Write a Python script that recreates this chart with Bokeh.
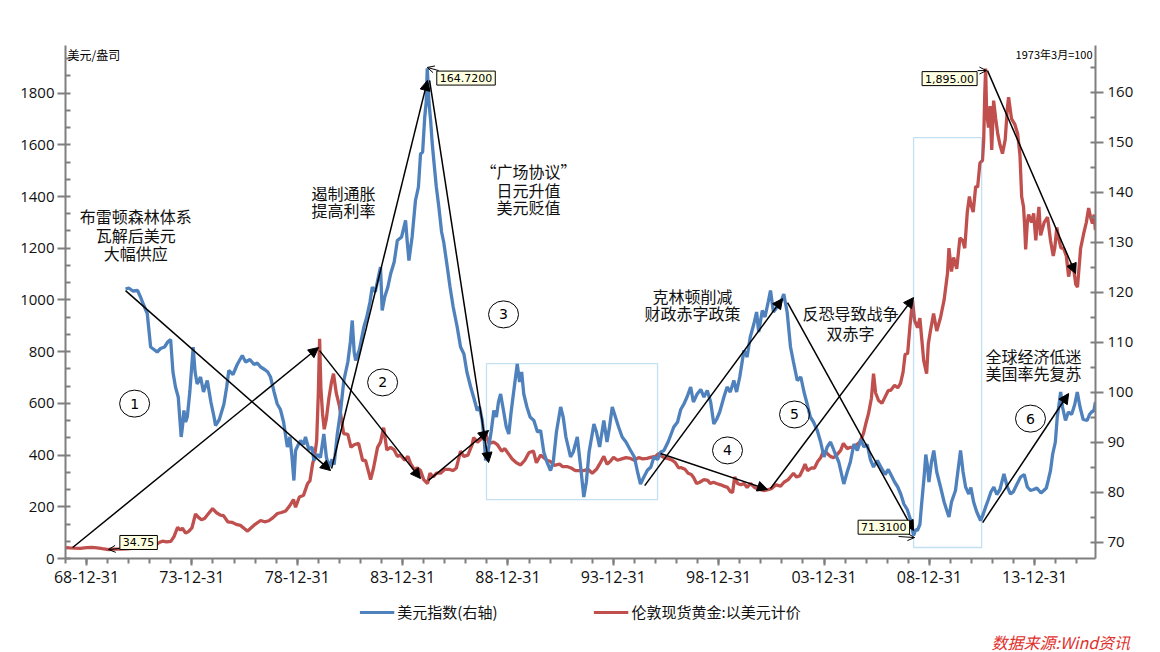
from bokeh.plotting import figure
from bokeh.layouts import column
from bokeh.models import (Range1d, LinearAxis, FixedTicker, Label, Arrow, NormalHead,
                          OpenHead, BoxAnnotation, Legend, LegendItem)
from bokeh.embed import file_html
from bokeh.resources import INLINE

# ---------------- data ----------------
gold_t = [1968.00, 1968.20, 1968.45, 1968.70, 1969.00, 1969.25, 1969.50, 1969.75, 1970.04, 1970.30,
          1970.60, 1970.90, 1971.20, 1971.50, 1971.80, 1972.05, 1972.25, 1972.45, 1972.60, 1972.80,
          1973.00, 1973.15, 1973.32, 1973.45, 1973.55, 1973.70, 1973.85, 1974.00, 1974.17, 1974.30,
          1974.45, 1974.60, 1974.75, 1974.98, 1975.15, 1975.35, 1975.50, 1975.70, 1975.90, 1976.10,
          1976.30, 1976.50, 1976.64, 1976.80, 1977.00, 1977.26, 1977.45, 1977.65, 1977.85, 1978.06,
          1978.25, 1978.45, 1978.65, 1978.82, 1978.92, 1979.10, 1979.30, 1979.49, 1979.60, 1979.73,
          1979.82, 1979.92, 1980.00, 1980.06, 1980.12, 1980.20, 1980.28, 1980.38, 1980.50, 1980.62,
          1980.72, 1980.85, 1981.00, 1981.20, 1981.40, 1981.55, 1981.70, 1981.91, 1982.10, 1982.24,
          1982.40, 1982.48, 1982.62, 1982.81, 1982.95, 1983.10, 1983.25, 1983.43, 1983.60, 1983.75,
          1983.90, 1984.10, 1984.25, 1984.38, 1984.55, 1984.70, 1984.85, 1985.00, 1985.18, 1985.30,
          1985.45, 1985.60, 1985.80, 1986.00, 1986.20, 1986.40, 1986.55, 1986.75, 1986.90, 1987.10,
          1987.30, 1987.37, 1987.55, 1987.70, 1987.84, 1987.95, 1988.10, 1988.32, 1988.50, 1988.70,
          1988.85, 1988.98, 1989.20, 1989.40, 1989.60, 1989.80, 1990.00, 1990.21, 1990.35, 1990.55,
          1990.70, 1990.85, 1991.02, 1991.20, 1991.45, 1991.60, 1991.83, 1992.00, 1992.20, 1992.40,
          1992.59, 1992.80, 1993.00, 1993.20, 1993.39, 1993.55, 1993.70, 1993.85, 1994.01, 1994.20,
          1994.40, 1994.60, 1994.82, 1995.00, 1995.20, 1995.40, 1995.60, 1995.77, 1996.00, 1996.15,
          1996.30, 1996.45, 1996.58, 1996.80, 1996.95, 1997.10, 1997.20, 1997.40, 1997.55, 1997.70,
          1997.81, 1997.95, 1998.10, 1998.30, 1998.48, 1998.60, 1998.75, 1998.90, 1999.10, 1999.25,
          1999.42, 1999.56, 1999.66, 1999.76, 1999.90, 2000.05, 2000.20, 2000.35, 2000.51, 2000.70,
          2000.90, 2001.13, 2001.30, 2001.50, 2001.72, 2001.94, 2002.10, 2002.30, 2002.45, 2002.55,
          2002.70, 2002.85, 2003.00, 2003.10, 2003.22, 2003.40, 2003.55, 2003.70, 2003.84, 2003.95,
          2004.10, 2004.30, 2004.45, 2004.60, 2004.79, 2004.92, 2005.10, 2005.26, 2005.40, 2005.55,
          2005.70, 2005.87, 2005.98, 2006.11, 2006.25, 2006.35, 2006.45, 2006.59, 2006.75, 2006.90,
          2007.05, 2007.16, 2007.35, 2007.50, 2007.63, 2007.75, 2007.85, 2007.97, 2008.08, 2008.20,
          2008.30, 2008.44, 2008.55, 2008.65, 2008.73, 2008.80, 2008.87, 2008.95, 2009.05, 2009.20,
          2009.35, 2009.53, 2009.70, 2009.86, 2009.93, 2010.05, 2010.15, 2010.30, 2010.45, 2010.58,
          2010.68, 2010.80, 2010.90, 2010.96, 2011.08, 2011.20, 2011.29, 2011.40, 2011.52, 2011.58,
          2011.63, 2011.67, 2011.72, 2011.81, 2011.88, 2011.96, 2012.05, 2012.15, 2012.25, 2012.35,
          2012.47, 2012.60, 2012.70, 2012.76, 2012.90, 2013.05, 2013.19, 2013.30, 2013.38, 2013.47,
          2013.52, 2013.57, 2013.65, 2013.71, 2013.85, 2013.95, 2014.05, 2014.13, 2014.20, 2014.28,
          2014.45, 2014.61, 2014.75, 2014.88, 2014.95, 2015.05, 2015.13, 2015.25, 2015.37, 2015.50,
          2015.61, 2015.73, 2015.84, 2015.95, 2016.03, 2016.10, 2016.18, 2016.32, 2016.45, 2016.56,
          2016.65, 2016.74, 2016.82, 2016.88]
gold_v = [42, 41, 40, 39.5, 42, 43, 41, 38, 34.75, 36,
          36.5, 37.5, 39, 41, 43, 46, 50, 62, 67, 64,
          66, 85, 120, 110, 117, 98, 105, 118, 172, 160,
          150, 155, 170, 193, 178, 168, 166, 142, 140, 132,
          128, 115, 106, 118, 132, 147, 142, 146, 158, 174,
          178, 184, 205, 228, 198, 238, 245, 290, 300, 367,
          395, 455, 640, 850, 660, 560, 500, 540, 620, 680,
          715, 640, 590, 483, 480, 430, 440, 445, 380, 379,
          330, 305, 350, 430, 450, 506, 420, 430, 420, 395,
          400, 380, 395, 367, 345, 350, 340, 305, 290, 330,
          315, 330, 330, 345, 345, 340, 350, 415, 395, 400,
          440, 468, 450, 460, 485, 480, 445, 450, 440, 415,
          425, 410, 385, 370, 362, 380, 410, 415, 370, 400,
          390, 380, 375, 360, 365, 355, 355, 350, 340, 340,
          340, 345, 330, 345, 371, 395, 365, 375, 391, 380,
          385, 390, 387, 380, 390, 385, 387, 391, 395, 406,
          395, 388, 387, 380, 370, 350, 352, 345, 330, 325,
          313, 290, 295, 305, 302, 290, 295, 290, 285, 280,
          275, 258, 255, 315, 290, 285, 290, 275, 290, 275,
          268, 263, 265, 270, 285, 280, 295, 305, 320, 329,
          315, 320, 345, 365, 340, 350, 350, 375, 390, 410,
          410, 395, 390, 400, 418, 445, 425, 430, 430, 440,
          450, 483, 520, 560, 620, 715, 640, 611, 600, 625,
          650, 650, 670, 660, 677, 720, 790, 793, 900, 998,
          920, 893, 930, 840, 766, 740, 715, 830, 880, 947,
          880, 932, 1000, 1102, 1200, 1110, 1164, 1120, 1240, 1230,
          1200, 1340, 1400, 1373, 1340, 1440, 1435, 1530, 1539, 1620,
          1800, 1895, 1720, 1667, 1750, 1580, 1771, 1700, 1640, 1600,
          1566, 1620, 1740, 1784, 1700, 1680, 1643, 1560, 1400, 1360,
          1290, 1195, 1300, 1330, 1300, 1335, 1230, 1300, 1360, 1250,
          1300, 1320, 1230, 1170, 1200, 1280, 1240, 1200, 1200, 1170,
          1090, 1140, 1125, 1060, 1050, 1120, 1200, 1255, 1300, 1355,
          1320, 1295, 1330, 1270]

dxy_t = [1970.85, 1971.00, 1971.20, 1971.42, 1971.56, 1971.70, 1971.88, 1972.04, 1972.20, 1972.35,
         1972.51, 1972.70, 1972.85, 1972.99, 1973.10, 1973.22, 1973.35, 1973.49, 1973.55, 1973.62,
         1973.70, 1973.78, 1973.90, 1974.06, 1974.15, 1974.25, 1974.41, 1974.55, 1974.73, 1974.90,
         1975.05, 1975.12, 1975.30, 1975.52, 1975.65, 1975.75, 1975.95, 1976.15, 1976.39, 1976.55,
         1976.75, 1976.95, 1977.10, 1977.26, 1977.45, 1977.60, 1977.73, 1977.90, 1978.05, 1978.20,
         1978.35, 1978.53, 1978.65, 1978.75, 1978.84, 1978.92, 1979.05, 1979.16, 1979.30, 1979.39,
         1979.55, 1979.70, 1979.79, 1979.95, 1980.10, 1980.26, 1980.38, 1980.50, 1980.65, 1980.75,
         1980.90, 1981.05, 1981.21, 1981.40, 1981.52, 1981.61, 1981.70, 1981.77, 1981.95, 1982.16,
         1982.30, 1982.45, 1982.56, 1982.70, 1982.85, 1982.95, 1983.03, 1983.15, 1983.30, 1983.43,
         1983.60, 1983.75, 1983.95, 1984.14, 1984.22, 1984.30, 1984.45, 1984.61, 1984.75, 1984.85,
         1984.95, 1985.05, 1985.12, 1985.17, 1985.25, 1985.33, 1985.40, 1985.48, 1985.60, 1985.72,
         1985.85, 1985.95, 1986.12, 1986.25, 1986.40, 1986.59, 1986.75, 1986.91, 1987.05, 1987.23,
         1987.40, 1987.54, 1987.65, 1987.78, 1987.88, 1987.94, 1988.05, 1988.20, 1988.33, 1988.45,
         1988.55, 1988.65, 1988.80, 1988.92, 1989.04, 1989.15, 1989.30, 1989.44, 1989.55, 1989.65,
         1989.75, 1989.90, 1990.05, 1990.23, 1990.40, 1990.55, 1990.70, 1990.85, 1991.02, 1991.15,
         1991.30, 1991.50, 1991.62, 1991.75, 1991.97, 1992.10, 1992.29, 1992.45, 1992.60, 1992.72,
         1992.85, 1993.08, 1993.20, 1993.35, 1993.55, 1993.70, 1993.82, 1993.95, 1994.10, 1994.25,
         1994.42, 1994.60, 1994.82, 1995.00, 1995.15, 1995.29, 1995.45, 1995.61, 1995.78, 1995.93,
         1996.10, 1996.25, 1996.40, 1996.60, 1996.87, 1997.05, 1997.20, 1997.35, 1997.50, 1997.67,
         1997.80, 1997.98, 1998.15, 1998.30, 1998.46, 1998.62, 1998.77, 1998.90, 1999.05, 1999.25,
         1999.40, 1999.55, 1999.72, 1999.85, 2000.00, 2000.20, 2000.35, 2000.50, 2000.67, 2000.80,
         2000.90, 2001.07, 2001.20, 2001.35, 2001.46, 2001.60, 2001.78, 2001.95, 2002.09, 2002.25,
         2002.41, 2002.55, 2002.73, 2002.90, 2003.05, 2003.20, 2003.35, 2003.50, 2003.68, 2003.84,
         2004.00, 2004.15, 2004.31, 2004.50, 2004.70, 2004.94, 2005.10, 2005.25, 2005.42, 2005.58,
         2005.75, 2005.89, 2006.05, 2006.20, 2006.35, 2006.53, 2006.70, 2006.90, 2007.05, 2007.16,
         2007.35, 2007.50, 2007.65, 2007.79, 2007.95, 2008.10, 2008.25, 2008.35, 2008.43, 2008.55,
         2008.62, 2008.75, 2008.83, 2008.90, 2008.98, 2009.10, 2009.21, 2009.35, 2009.53, 2009.70,
         2009.85, 2009.93, 2010.05, 2010.24, 2010.35, 2010.48, 2010.60, 2010.72, 2010.87, 2010.97,
         2011.10, 2011.25, 2011.43, 2011.55, 2011.67, 2011.80, 2011.92, 2012.06, 2012.20, 2012.35,
         2012.54, 2012.70, 2012.85, 2012.98, 2013.15, 2013.33, 2013.50, 2013.65, 2013.80, 2013.95,
         2014.10, 2014.30, 2014.43, 2014.55, 2014.65, 2014.75, 2014.85, 2014.98, 2015.07, 2015.17,
         2015.23, 2015.32, 2015.46, 2015.60, 2015.75, 2015.90, 2016.02, 2016.15, 2016.30, 2016.49,
         2016.60, 2016.70, 2016.81, 2016.88]
dxy_v = [120.6, 120.8, 120.2, 120.3, 119, 117.5, 115.7, 109, 108.5, 108,
         108.7, 109, 110, 110.5, 104, 101, 99, 91, 93, 96.3,
         94, 95, 100, 109, 104, 101.6, 103, 100, 102.3, 98,
         95, 93.3, 94.5, 97.6, 101, 104.3, 103.5, 105.5, 107.3, 106,
         106.5, 105.5, 105.8, 105, 104.5, 104, 103, 100, 97.6, 96.5,
         94, 89, 91, 87, 82.3, 88.3, 89.5, 90.3, 89.5, 91,
         88.5, 89, 86.3, 87.5, 86.9, 91.6, 87, 85, 86.5, 85.5,
         91.6, 96, 102.3, 106, 110, 114.3, 108, 106.3, 108.5, 113,
         115, 118, 121, 120, 123, 125, 116.3, 119, 121, 123.6,
         126, 130.3, 131, 134.3, 130, 126.3, 131, 138.3, 141, 147.6,
         148, 155, 158, 164.72, 158, 154.3, 150, 146.3, 141, 137,
         132, 130, 125, 121, 117, 113, 109, 107.6, 104, 101,
         98.5, 96.3, 97, 94.3, 90, 86.3, 88, 92, 96.3, 95,
         98, 99.6, 96, 93, 91.6, 96, 101, 105.6, 102, 104,
         99.6, 97, 95, 94.3, 92, 92.3, 88, 86, 84.3, 86,
         92, 97, 95, 91, 87, 88, 91, 85, 79, 82,
         88, 93.6, 92, 89, 94.3, 90, 93, 97, 95, 93,
         91, 90, 88.3, 87, 84, 81.6, 83, 84.3, 85, 87,
         86.5, 88, 88.3, 90, 93, 94, 96.5, 97.6, 99, 101,
         98, 99.6, 100.5, 99, 100.3, 98, 93.6, 94.5, 96, 99,
         101, 100, 102.3, 100, 103, 108.3, 107, 111, 113.6, 116,
         112, 116.3, 115, 118, 120.3, 116, 117, 118, 119.6, 116,
         109, 106, 102.3, 103, 100, 97.6, 95, 94, 92.3, 90,
         87, 89, 90, 88, 86, 81.6, 84, 86, 89.6, 88.3,
         90.5, 89, 89.5, 86.5, 85, 86.3, 85, 83.5, 84.5, 83.6,
         82, 81, 79.5, 77.6, 76.5, 74.5, 71.31, 72.5, 72.3, 73.5,
         77, 83, 87.5, 85.5, 82, 86, 88.3, 84, 81, 78,
         76, 75, 78, 80.3, 84, 88.3, 84, 81, 79.6, 80.9,
         78, 76, 74.3, 75.5, 77, 78.5, 80, 81, 79.5, 80.5,
         83.6, 81, 79.6, 80, 81.5, 83, 83.5, 81, 80.3, 80.5,
         80.8, 79.8, 80.3, 80.8, 82.5, 84.3, 87.5, 90, 95, 98,
         100, 97, 94.3, 96, 95.5, 97.5, 100, 97, 94.5, 94.3,
         95.5, 96, 96.3, 98]

x_tick_years = [1969, 1974, 1979, 1984, 1989, 1994, 1999, 2004, 2009, 2014]
x_tick_labels = ["68-12-31", "73-12-31", "78-12-31", "83-12-31", "88-12-31",
                 "93-12-31", "98-12-31", "03-12-31", "08-12-31", "13-12-31"]
x_minor_years = list(range(1968, 2017))
left_ticks = [0, 200, 400, 600, 800, 1000, 1200, 1400, 1600, 1800]
right_ticks = [70, 80, 90, 100, 110, 120, 130, 140, 150, 160]

series_names = ["美元指数(右轴)", "伦敦现货黄金:以美元计价"]
BLUE = "#4f81bd"
RED = "#c0504d"
AXC = "#7f7f7f"
CJK = "Noto Sans CJK SC"

# ---------------- annotations (data coordinates) ----------------
notes = [  # (x, y, text)
    (1971.33, 1326, "布雷顿森林体系"), (1971.33, 1253, "瓦解后美元"), (1971.33, 1183, "大幅供应"),
    (1981.20, 1412, "遏制通胀"), (1981.20, 1346, "提高利率"),
    (1989.98, 1500, "“广场协议”"), (1989.98, 1427, "日元升值"), (1989.98, 1358, "美元贬值"),
    (1997.76, 1017, "克林顿削减"), (1997.76, 948, "财政赤字政策"),
    (2005.26, 948, "反恐导致战争"), (2005.26, 874, "双赤字"),
    (2013.94, 785, "全球经济低迷"), (2013.94, 719, "美国率先复苏"),
]
circles = [(1971.28, 599, "1"), (1983.05, 681, "2"), (1988.79, 944, "3"),
           (1999.42, 418, "4"), (2002.60, 557, "5"), (2013.80, 541, "6")]
arrows = [
    (1968.34, 42.5, 1980.01, 816), (1970.85, 1036, 1980.58, 340),
    (1980.63, 348, 1985.18, 1849), (1980.06, 804, 1984.85, 309),
    (1985.28, 1849, 1988.08, 371), (1985.23, 302, 1988.08, 495),
    (1995.49, 282, 2002.03, 1005), (1996.24, 406, 2001.32, 267),
    (2002.27, 990, 2008.25, 108), (2001.46, 271, 2008.25, 1009),
    (2011.76, 1887, 2015.94, 1102), (2011.53, 139, 2015.61, 638),
]
boxes = [(1987.98, 1996.10, 228, 754), (2008.25, 2011.48, 42.5, 1628)]

# ---------------- main chart ----------------
p = figure(frame_width=1030, frame_height=513, output_backend="svg", toolbar_location=None,
           x_range=Range1d(1968.0, 2016.885), y_range=Range1d(0, 1984),
           min_border_left=65, min_border_right=65, min_border_top=45, min_border_bottom=40)
p.extra_y_ranges = {"dxy": Range1d(66.7, 169.3)}
p.xgrid.visible = False
p.ygrid.visible = False
p.outline_line_color = None
p.background_fill_color = "white"
p.border_fill_color = "white"

xa = p.xaxis[0]
xa.ticker = FixedTicker(ticks=x_tick_years, minor_ticks=x_minor_years)
xa.major_label_overrides = {y: l for y, l in zip(x_tick_years, x_tick_labels)}
xa.major_tick_out, xa.major_tick_in, xa.minor_tick_out, xa.minor_tick_in = 7, 0, 5, 0
xa.major_label_standoff = 5
xa.major_label_text_font_size = "16px"

ya = p.yaxis[0]
ya.ticker = FixedTicker(ticks=left_ticks,
                        minor_ticks=[i * 200 / 3 for i in range(0, 30)])
ya.major_tick_out, ya.major_tick_in, ya.minor_tick_out, ya.minor_tick_in = 8, 0, 0, 5
ya.major_label_standoff = 3

ra = LinearAxis(y_range_name="dxy",
                ticker=FixedTicker(ticks=right_ticks, minor_ticks=list(range(65, 170, 5))))
ra.major_tick_out, ra.major_tick_in, ra.minor_tick_out, ra.minor_tick_in = 8, 0, 0, 5
ra.major_label_standoff = 4
p.add_layout(ra, "right")

for ax in (xa, ya, ra):
    ax.axis_line_color = AXC
    ax.axis_line_width = 2
    ax.major_tick_line_color = AXC
    ax.major_tick_line_width = 2
    ax.minor_tick_line_color = AXC
    ax.minor_tick_line_width = 2
    ax.major_label_text_font = "Open Sans"
    ax.major_label_text_color = "#111111"
for ax in (ya, ra):
    ax.major_label_text_font_size = "15px"

# series
p.line(gold_t, gold_v, line_color=RED, line_width=3.3)
p.line(dxy_t, dxy_v, line_color=BLUE, line_width=3.3, y_range_name="dxy")

# boxes
for l, r, b, t in boxes:
    p.add_layout(BoxAnnotation(left=l, right=r, bottom=b, top=t, fill_alpha=0,
                               line_color="#3d9bd6", line_width=1.3))

# arrows
for xs, ys, xe, ye in arrows:
    p.add_layout(Arrow(end=NormalHead(size=10, fill_color="black", line_color="black"),
                       x_start=xs, y_start=ys, x_end=xe, y_end=ye,
                       line_color="black", line_width=1.5))

# text notes
for x, y, t in notes:
    p.add_layout(Label(x=x, y=y, text=t, text_align="center", text_baseline="middle",
                       text_font=CJK, text_font_size="16px", text_color="#111111"))

# circled numbers
cx = [c[0] for c in circles]
cy = [c[1] for c in circles]
p.ellipse(cx, cy, width=30 / 21.07, height=27 / 0.25857, fill_alpha=0,
          line_color="black", line_width=1)
for x, y, t in circles:
    p.add_layout(Label(x=x, y=y, text=t, text_align="center", text_baseline="middle",
                       text_font="DejaVu Sans", text_font_size="14px", text_color="black"))

# callouts (extreme values)
gi_max = gold_v.index(max(gold_v))
gi_min = gold_v.index(min(gold_v))
di_max = dxy_v.index(max(dxy_v))
di_min = dxy_v.index(min(dxy_v))
callouts = [
    (1971.47, 62, f"{gold_v[gi_min]:.2f}", 1970.57, 38.7, gold_t[gi_min], 34.8),
    (1987.01, 1858, f"{dxy_v[di_max]:.4f}", 1985.71, 1887, dxy_t[di_max], 1899),
    (2006.84, 121, f"{dxy_v[di_min]:.4f}", 2007.54, 85, 2008.30, 81),
    (2009.96, 1856, f"{gold_v[gi_max]:,.2f}", 2011.29, 1887, gold_t[gi_max] + 0.04, 1887),
]
for lx, ly, t, xs, ys, xe, ye in callouts:
    p.add_layout(Arrow(end=OpenHead(size=7, line_width=1, line_color="black"),
                       x_start=xs, y_start=ys, x_end=xe, y_end=ye,
                       line_color="black", line_width=1))
    p.add_layout(Label(x=lx, y=ly, text=t, text_align="center", text_baseline="middle",
                       text_font="DejaVu Sans", text_font_size="11px", text_color="black",
                       background_fill_color="#ffffe1", border_line_color="black",
                       border_line_width=1, padding=3))

# axis unit titles (inside the top of the frame)
p.add_layout(Label(x=1968.10, y=1982, text="美元/盎司", text_align="left", text_baseline="top",
                   text_font=CJK, text_font_size="12px", text_color="black"))
p.add_layout(Label(x=2016.745, y=1982, text="1973年3月=100", text_align="right",
                   text_baseline="top", text_font=CJK, text_font_size="11px",
                   text_color="black"))


def strip(h):
    s = figure(frame_width=1160, frame_height=h, output_backend="svg", toolbar_location=None,
               x_range=Range1d(0, 1160), y_range=Range1d(0, h),
               x_axis_type=None, y_axis_type=None,
               min_border=0, min_border_left=0, min_border_right=0,
               min_border_top=0, min_border_bottom=0)
    s.outline_line_color = None
    s.background_fill_color = "white"
    s.border_fill_color = "white"
    return s


# ---------------- legend strip ----------------
q = strip(30)
# same series, plotted in the strip only to give the legend its swatches
# (their data lies far outside this strip's ranges, so nothing else is drawn)
k_dxy = q.line(dxy_t, dxy_v, line_color=BLUE, line_width=3)
k_gold = q.line(gold_t, gold_v, line_color=RED, line_width=3)
legend = Legend(items=[LegendItem(label=series_names[0], renderers=[k_dxy]),
                       LegendItem(label=series_names[1], renderers=[k_gold])],
                orientation="horizontal", location="top_center", spacing=96,
                glyph_width=35, glyph_height=18, label_standoff=3, label_height=18,
                label_text_font=CJK, label_text_font_size="15px", label_text_color="#111111",
                border_line_color=None, background_fill_alpha=0, margin=3, padding=0)
q.add_layout(legend, "center")

# ---------------- source strip ----------------
# (the italic text is consistently drawn ~67px right of its anchor, so anchor it earlier)
r = strip(24)
r.add_layout(Label(x=926, y=11, text="数据来源:Wind资讯", text_align="left",
                   text_baseline="middle", text_font=CJK, text_font_size="16px",
                   text_font_style="italic", text_color="#e0302c"))

page = column(p, q, r, spacing=0)
open("out.html", "w").write(file_html(page, INLINE))
